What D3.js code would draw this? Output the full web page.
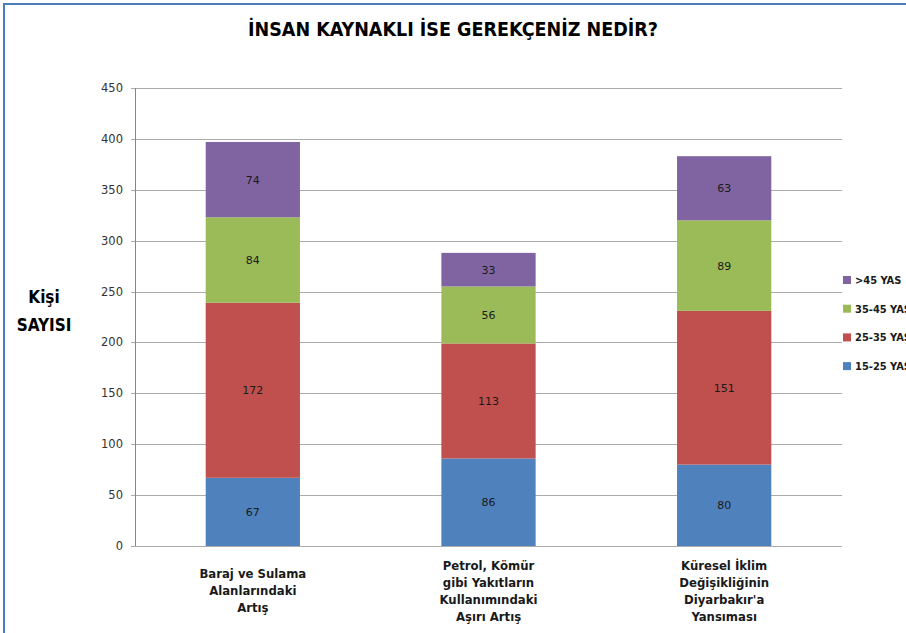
<!DOCTYPE html>
<html>
<head>
<meta charset="utf-8">
<script src="https://cdn.jsdelivr.net/npm/d3@7"></script>
<style>
  body { margin: 0; background: #fff; }
  svg { display: block; }
</style>
</head>
<body>
<div id="chart"></div>
<script>
// categories (x labels, already split into lines)
const categories = [
    ['Baraj ve Sulama', 'Alanlarındaki', 'Artış'],
    ['Petrol, Kömür', 'gibi Yakıtların', 'Kullanımındaki', 'Aşırı Artış'],
    ['Küresel İklim', 'Değişikliğinin', "Diyarbakır'a", 'Yansıması']
];
const seriesNames = ['15-25 YAS', '25-35 YAS', '35-45 YAS', '>45 YAS'];
const age15_25 = [67, 86, 80];
const age25_35 = [172, 113, 151];
const age35_45 = [84, 56, 89];
const age45plus = [74, 33, 63];
const yTicks = [0, 50, 100, 150, 200, 250, 300, 350, 400, 450];
const colors = ['#4f81bd', '#c0504d', '#9bbb59', '#8064a2'];

const width = 906, height = 633;
const margin = { left: 135, right: 64, top: 88, bottom: 87 };
const font = "'Liberation Sans Narrow', 'DejaVu Sans Condensed', 'Open Sans', sans-serif";

const svg = d3.select('#chart').append('svg')
    .attr('width', width)
    .attr('height', height);

// blue frame
svg.append('rect')
    .attr('x', 4).attr('y', 4)
    .attr('width', width + 10).attr('height', height + 10)
    .attr('fill', 'none')
    .attr('stroke', '#4a7ebb')
    .attr('stroke-width', 2);

const rows = categories.map((c, i) => ({
    idx: i,
    s0: age15_25[i], s1: age25_35[i], s2: age35_45[i], s3: age45plus[i]
}));
const stack = d3.stack().keys(['s0', 's1', 's2', 's3']);
const layers = stack(rows);

const x = d3.scaleBand()
    .domain(d3.range(categories.length))
    .range([margin.left, width - margin.right])
    .paddingInner(0.6)
    .paddingOuter(0.3);

const y = d3.scaleLinear()
    .domain([0, 450])
    .range([height - margin.bottom, margin.top]);

// gridlines
svg.append('g')
    .selectAll('line')
    .data(yTicks)
    .enter()
    .append('line')
    .attr('x1', margin.left - 4)
    .attr('x2', width - margin.right)
    .attr('y1', d => Math.round(y(d)) + 0.5)
    .attr('y2', d => Math.round(y(d)) + 0.5)
    .attr('stroke', '#ababab')
    .attr('stroke-width', 1);

// y axis line + tick labels
svg.append('line')
    .attr('x1', margin.left + 0.5).attr('x2', margin.left + 0.5)
    .attr('y1', margin.top).attr('y2', height - margin.bottom)
    .attr('stroke', '#868686');

svg.append('g')
    .selectAll('text')
    .data(yTicks)
    .enter()
    .append('text')
    .attr('x', margin.left - 12)
    .attr('y', d => y(d) + 4)
    .attr('text-anchor', 'end')
    .style('font-family', "'DejaVu Sans', sans-serif")
    .style('font-size', '11.5px')
    .style('fill', '#333')
    .text(d => d);

// bars
const layerG = svg.selectAll('g.layer')
    .data(layers)
    .enter()
    .append('g')
    .attr('class', 'layer')
    .attr('fill', (d, i) => colors[i]);

layerG.selectAll('rect')
    .data(d => d)
    .enter()
    .append('rect')
    .attr('x', d => x(d.data.idx))
    .attr('y', d => y(d[1]))
    .attr('width', x.bandwidth())
    .attr('height', d => y(d[0]) - y(d[1]));

layerG.selectAll('text')
    .data(d => d)
    .enter()
    .append('text')
    .attr('x', d => x(d.data.idx) + x.bandwidth() / 2)
    .attr('y', d => (y(d[0]) + y(d[1])) / 2 + 4)
    .attr('text-anchor', 'middle')
    .style('font-family', "'DejaVu Sans', sans-serif")
    .style('font-size', '11px')
    .style('fill', '#1a1a1a')
    .text(d => d[1] - d[0]);

// x axis labels
const lineH = 17;
svg.append('g')
    .selectAll('text')
    .data(categories)
    .enter()
    .append('text')
    .attr('text-anchor', 'middle')
    .style('font-family', font)
    .style('font-size', '13px')
    .style('font-weight', 'bold')
    .style('fill', '#1a1a1a')
    .each(function (lines, i) {
        const cx = x(i) + x.bandwidth() / 2;
        const startY = 595 - (lines.length - 1) * lineH / 2;
        d3.select(this).selectAll('tspan')
            .data(lines)
            .enter()
            .append('tspan')
            .attr('x', cx)
            .attr('y', (l, j) => startY + j * lineH)
            .text(l => l);
    });

// title
svg.append('text')
    .attr('x', 453)
    .attr('y', 36)
    .attr('text-anchor', 'middle')
    .style('font-family', font)
    .style('font-size', '19.5px')
    .style('font-weight', 'bold')
    .style('fill', '#000')
    .text('İNSAN KAYNAKLI İSE GEREKÇENİZ NEDİR?');

// y axis title
svg.append('text')
    .attr('text-anchor', 'middle')
    .style('font-family', font)
    .style('font-size', '17px')
    .style('font-weight', 'bold')
    .style('fill', '#000')
    .selectAll('tspan')
    .data(['Kişi', 'SAYISI'])
    .enter()
    .append('tspan')
    .attr('x', 44)
    .attr('y', (d, i) => 303 + i * 28)
    .text(d => d);

// legend (top entry is the last series)
const legend = svg.append('g')
    .selectAll('g')
    .data(seriesNames.map((n, i) => ({ name: n, color: colors[i] })).reverse())
    .enter()
    .append('g')
    .attr('transform', (d, i) => `translate(843, ${280 + i * 28.7})`);

legend.append('rect')
    .attr('x', 0).attr('y', -4)
    .attr('width', 8).attr('height', 8)
    .attr('fill', d => d.color);

legend.append('text')
    .attr('x', 12)
    .attr('y', 4)
    .style('font-family', font)
    .style('font-size', '11px')
    .style('font-weight', 'bold')
    .style('fill', '#1a1a1a')
    .text(d => d.name);
</script>
</body>
</html>
